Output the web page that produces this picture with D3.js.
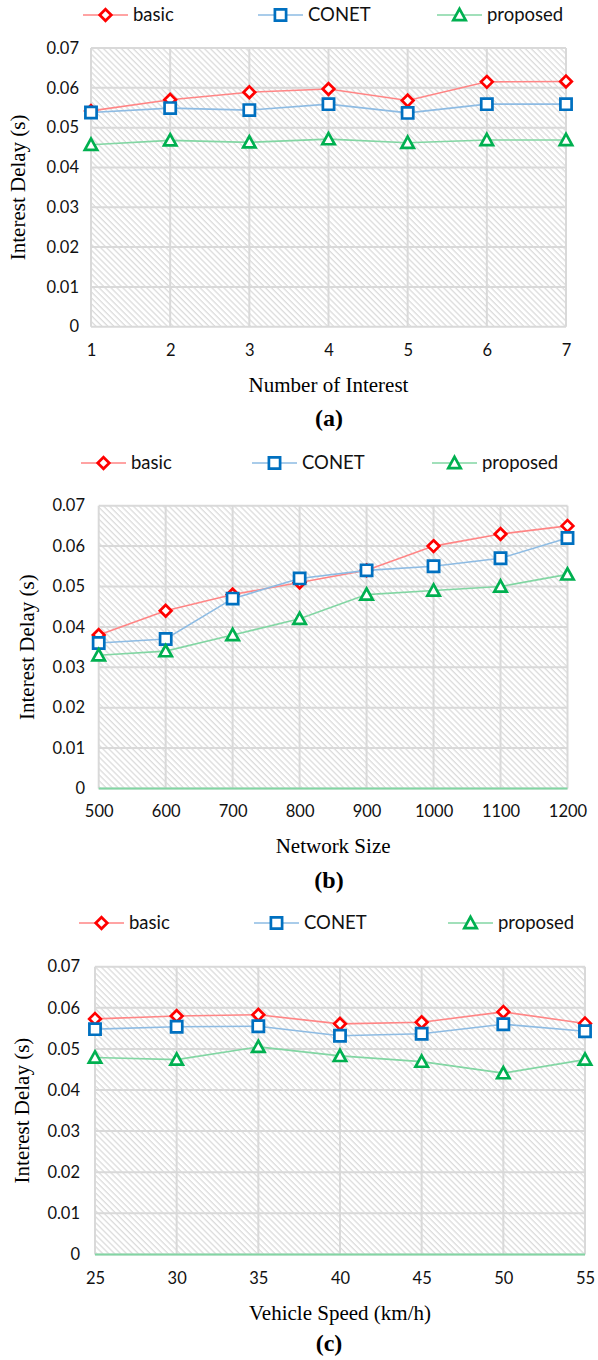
<!DOCTYPE html>
<html>
<head>
<meta charset="utf-8">
<script src="https://cdn.jsdelivr.net/npm/d3@7"></script>
<style>
body { margin: 0; background: #fff; }
svg { display: block; }
</style>
</head>
<body>
<svg id="drawing_region"></svg>
<script>
// (a) Number of Interest
const interestX = [1, 2, 3, 4, 5, 6, 7];
const basicA = [0.0542, 0.0570, 0.0589, 0.0597, 0.0568, 0.0615, 0.0616];
const conetA = [0.0538, 0.0549, 0.0544, 0.0559, 0.0537, 0.0559, 0.0559];
const proposedA = [0.0457, 0.0468, 0.0463, 0.0471, 0.0462, 0.0469, 0.0469];

// (b) Network Size
const sizeX = [500, 600, 700, 800, 900, 1000, 1100, 1200];
const basicB = [0.038, 0.044, 0.048, 0.051, 0.054, 0.060, 0.063, 0.065];
const conetB = [0.036, 0.037, 0.047, 0.052, 0.054, 0.055, 0.057, 0.062];
const proposedB = [0.033, 0.034, 0.038, 0.042, 0.048, 0.049, 0.050, 0.053];

// (c) Vehicle Speed
const speedX = [25, 30, 35, 40, 45, 50, 55];
const basicC = [0.0573, 0.0580, 0.0583, 0.0561, 0.0565, 0.0590, 0.0562];
const conetC = [0.0548, 0.0554, 0.0555, 0.0532, 0.0537, 0.0560, 0.0543];
const proposedC = [0.0479, 0.0474, 0.0505, 0.0483, 0.0469, 0.0441, 0.0474];

const yTicks = [0, 0.01, 0.02, 0.03, 0.04, 0.05, 0.06, 0.07];
const seriesNames = ['basic', 'CONET', 'proposed'];

const styles = [
    { marker: 'diamond', line: '#ff8585', mark: '#ff0000' },
    { marker: 'square', line: '#8dbbe3', mark: '#0070c0' },
    { marker: 'triangle', line: '#82d6a3', mark: '#00b050' }
];

const svg = d3.select('#drawing_region')
    .attr('width', 598)
    .attr('height', 1360);

// diagonal hatch background
const pat = svg.append('defs').append('pattern')
    .attr('id', 'hatch')
    .attr('patternUnits', 'userSpaceOnUse')
    .attr('width', 4.2)
    .attr('height', 4.2)
    .attr('patternTransform', 'rotate(-45)');
pat.append('rect').attr('width', 4.2).attr('height', 4.2).attr('fill', '#fff');
pat.append('line')
    .attr('x1', 1).attr('y1', 0).attr('x2', 1).attr('y2', 4.2)
    .attr('stroke', '#d6d6d6').attr('stroke-width', 1.1);

function markerPath(type, cx, cy) {
    if (type === 'diamond') {
        const r = 5.8;
        return `M${cx},${cy - r}L${cx + r},${cy}L${cx},${cy + r}L${cx - r},${cy}Z`;
    }
    if (type === 'square') {
        const r = 5.6;
        return `M${cx - r},${cy - r}H${cx + r}V${cy + r}H${cx - r}Z`;
    }
    const w = 6.2, h = 5.6;
    return `M${cx},${cy - h - 0.5}L${cx + w},${cy + h - 0.5}L${cx - w},${cy + h - 0.5}Z`;
}

function drawPanel(cfg) {
    const g = svg.append('g');

    const x = d3.scaleLinear()
        .domain([cfg.xs[0], cfg.xs[cfg.xs.length - 1]])
        .range([cfg.left, cfg.right]);
    const y = d3.scaleLinear()
        .domain([0, 0.07])
        .range([cfg.bottom, cfg.top]);

    // plot background
    g.append('rect')
        .attr('x', cfg.left).attr('y', cfg.top)
        .attr('width', cfg.right - cfg.left)
        .attr('height', cfg.bottom - cfg.top)
        .attr('fill', 'url(#hatch)');

    // gridlines
    g.selectAll('.hgrid').data(yTicks).enter().append('line')
        .attr('x1', cfg.left).attr('x2', cfg.right)
        .attr('y1', d => y(d)).attr('y2', d => y(d))
        .attr('stroke', '#d9d9d9').attr('stroke-width', 2);
    g.selectAll('.vgrid').data(cfg.xs).enter().append('line')
        .attr('x1', d => x(d)).attr('x2', d => x(d))
        .attr('y1', cfg.top).attr('y2', cfg.bottom)
        .attr('stroke', '#d9d9d9').attr('stroke-width', 2);

    if (cfg.zeroLine) {
        g.append('line')
            .attr('x1', cfg.left).attr('x2', cfg.right)
            .attr('y1', y(0)).attr('y2', y(0))
            .attr('stroke', cfg.zeroLine).attr('stroke-width', 2);
    }

    // y axis
    const yAxis = d3.axisLeft(y)
        .tickValues(yTicks)
        .tickFormat(d => d === 0 ? '0' : d3.format('.2f')(d))
        .tickSize(0)
        .tickPadding(cfg.left - cfg.yLabelRight);
    const ya = g.append('g').attr('transform', `translate(${cfg.left},0)`).call(yAxis);
    ya.select('.domain').remove();
    ya.selectAll('text')
        .attr('fill', '#111')
        .style('font-family', 'Lato, "Open Sans", sans-serif')
        .style('font-size', '16.5px');

    // x axis
    const xAxis = d3.axisBottom(x)
        .tickValues(cfg.xs)
        .tickFormat(d => d)
        .tickSize(0);
    const xa = g.append('g').attr('transform', `translate(0,${cfg.xTickY})`).call(xAxis);
    xa.select('.domain').remove();
    xa.selectAll('text')
        .attr('y', 0).attr('dy', '0.35em')
        .attr('fill', '#111')
        .style('font-family', 'Lato, "Open Sans", sans-serif')
        .style('font-size', '16.5px');

    // series
    const line = d3.line().x(d => x(d[0])).y(d => y(d[1]));
    cfg.series.forEach((vals, i) => {
        const pts = cfg.xs.map((v, j) => [v, vals[j]]);
        g.append('path')
            .attr('d', line(pts))
            .attr('fill', 'none')
            .attr('stroke', styles[i].line)
            .attr('stroke-width', 1.6);
        g.selectAll('.m' + i).data(pts).enter().append('path')
            .attr('d', d => markerPath(styles[i].marker, x(d[0]), y(d[1])))
            .attr('fill', '#fff')
            .attr('stroke', styles[i].mark)
            .attr('stroke-width', 2.7);
    });

    // legend
    seriesNames.forEach((name, i) => {
        const lx = cfg.legendX[i];
        g.append('line')
            .attr('x1', lx).attr('x2', lx + 45)
            .attr('y1', cfg.legendY).attr('y2', cfg.legendY)
            .attr('stroke', styles[i].line).attr('stroke-width', 1.6);
        g.append('path')
            .attr('d', markerPath(styles[i].marker, lx + 22.5, cfg.legendY))
            .attr('fill', '#fff')
            .attr('stroke', styles[i].mark)
            .attr('stroke-width', 2.7);
        g.append('text')
            .attr('x', lx + 50).attr('y', cfg.legendY)
            .attr('dy', '0.35em')
            .attr('fill', '#111')
            .style('font-family', 'Lato, "Open Sans", sans-serif')
            .style('font-size', '18.5px')
            .text(name);
    });

    // titles
    g.append('text')
        .attr('transform', `translate(${cfg.yTitleX},${(cfg.top + cfg.bottom) / 2}) rotate(-90)`)
        .attr('text-anchor', 'middle')
        .attr('dy', '0.35em')
        .style('font-family', '"Liberation Serif", serif')
        .style('font-size', '21px')
        .text('Interest Delay (s)');

    g.append('text')
        .attr('x', (cfg.left + cfg.right) / 2).attr('y', cfg.xTitleY)
        .attr('text-anchor', 'middle')
        .attr('dy', '0.35em')
        .style('font-family', '"Liberation Serif", serif')
        .style('font-size', '21px')
        .text(cfg.xTitle);

    g.append('text')
        .attr('x', 329).attr('y', cfg.labelY)
        .attr('text-anchor', 'middle')
        .attr('dy', '0.35em')
        .style('font-family', '"Liberation Serif", serif')
        .style('font-weight', 'bold')
        .style('font-size', '24px')
        .text(cfg.label);
}

drawPanel({
    xs: interestX, series: [basicA, conetA, proposedA],
    top: 48, bottom: 326.7, left: 91, right: 566,
    yLabelRight: 79, yTitleX: 17.5,
    xTickY: 350, xTitleY: 385, labelY: 418,
    legendY: 15, legendX: [83, 258, 437],
    xTitle: 'Number of Interest', label: '(a)', zeroLine: null
});

drawPanel({
    xs: sizeX, series: [basicB, conetB, proposedB],
    top: 505.7, bottom: 788.5, left: 98.7, right: 567.5,
    yLabelRight: 85, yTitleX: 27,
    xTickY: 811, xTitleY: 846, labelY: 880,
    legendY: 463, legendX: [81, 252, 432],
    xTitle: 'Network Size', label: '(b)', zeroLine: '#82d6a3'
});

drawPanel({
    xs: speedX, series: [basicC, conetC, proposedC],
    top: 966.7, bottom: 1254.4, left: 95, right: 585,
    yLabelRight: 80, yTitleX: 22,
    xTickY: 1278, xTitleY: 1313, labelY: 1343,
    legendY: 923, legendX: [79, 254, 448],
    xTitle: 'Vehicle Speed (km/h)', label: '(c)', zeroLine: '#82d6a3'
});
</script>
</body>
</html>
